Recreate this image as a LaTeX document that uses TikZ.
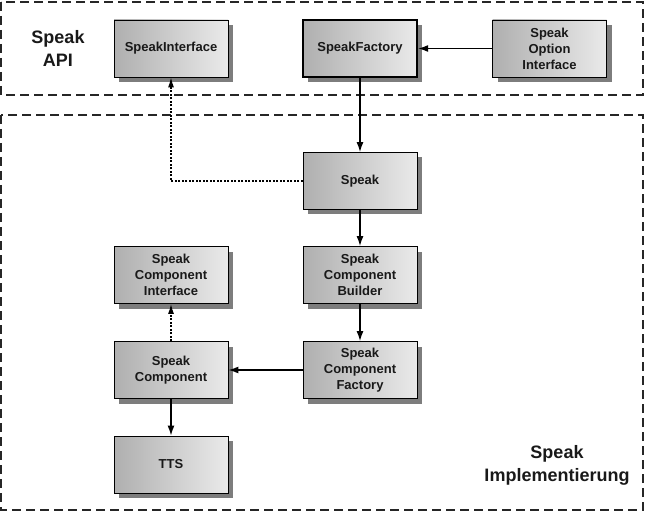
\documentclass[tikz,border=0pt]{standalone}
\usepackage{fontspec}
\setmainfont{Liberation Sans}
\usetikzlibrary{arrows.meta,shadows}

\definecolor{boxleft}{RGB}{175,175,175}
\definecolor{boxright}{RGB}{234,234,234}
\definecolor{shadowgray}{RGB}{125,125,125}

\tikzset{
  klasse/.style={draw=black, line width=0.9pt, minimum width=114pt, minimum height=57pt,
    align=center, font=\fontsize{13}{16}\selectfont\bfseries, text=black!90,
    left color=boxleft, right color=boxright,
    drop shadow={shadow xshift=5pt, shadow yshift=-5pt, fill=shadowgray, opacity=1}},
  rahmen/.style={draw=black!85, line width=1.4pt, dash pattern=on 9pt off 5pt},
  titel/.style={align=center, font=\fontsize{18}{23}\selectfont\bfseries, text=black!90},
  pfeil/.style={line width=1.3pt, -{Latex[length=10pt,width=7pt]}},
  dep/.style={line width=1.2pt, dash pattern=on 2pt off 1.5pt, -{Latex[length=10pt,width=6pt]}}
}

\begin{document}
\begin{tikzpicture}[x=1pt, y=-1pt]
\useasboundingbox (0,0) rectangle (645,513);

\draw[rahmen] (1,2) rectangle (643,95);
\draw[rahmen] (1,115) rectangle (643,510);

\node[titel] (api) at (58,48) {Speak\\API};
\node[titel] (impl) at (557,465) {Speak\\Implementierung};

\node[klasse] (si) at (171,48.5) {SpeakInterface};
\node[klasse, line width=2.4pt] (sf) at (360,48.5) {SpeakFactory};
\node[klasse] (soi) at (549.5,48.5) {Speak\\Option\\Interface};

\node[klasse] (sp) at (360,181) {Speak};
\node[klasse] (scb) at (360,275) {Speak\\Component\\Builder};
\node[klasse] (scf) at (360,370) {Speak\\Component\\Factory};

\node[klasse] (sci) at (171,275) {Speak\\Component\\Interface};
\node[klasse] (sc) at (171,370) {Speak\\Component};
\node[klasse] (tts) at (171,464.5) {TTS};

\draw[pfeil] (soi) -- (sf);
\draw[pfeil] (sf) -- (sp);
\draw[pfeil] (sp) -- (scb);
\draw[pfeil] (scb) -- (scf);
\draw[pfeil] (scf) -- (sc);
\draw[pfeil] (sc) -- (tts);

\draw[dep] (sp.west) -| (si.south);
\draw[dep] (sc) -- (sci);

\end{tikzpicture}
\end{document}
